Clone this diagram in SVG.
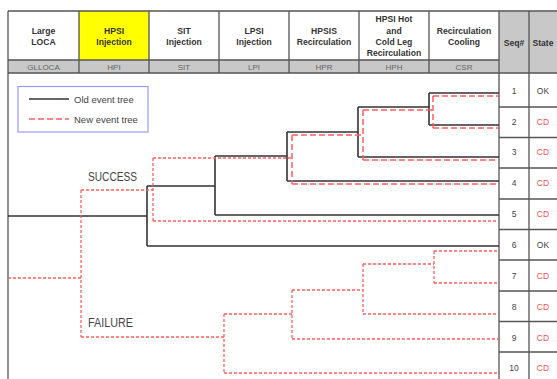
<svg xmlns="http://www.w3.org/2000/svg" width="557" height="379" viewBox="0 0 557 379">
<style>
.hd{font-family:"Liberation Sans",Arial,sans-serif;font-size:8.6px;font-weight:bold;fill:#333;text-anchor:middle}
.cd{font-family:"Liberation Sans",Arial,sans-serif;font-size:8px;fill:#666;text-anchor:middle}
.sq{font-family:"Liberation Sans",Arial,sans-serif;font-size:8.5px;fill:#444;text-anchor:middle}
.ok{font-family:"Liberation Sans",Arial,sans-serif;font-size:8.5px;fill:#444;text-anchor:middle}
.cdr{font-family:"Liberation Sans",Arial,sans-serif;font-size:8.5px;fill:#ff4d4d;text-anchor:middle}
.lg{font-family:"Liberation Sans",Arial,sans-serif;font-size:9.5px;fill:#444}
.br{font-family:"Liberation Sans",Arial,sans-serif;font-size:12.5px;fill:#444}
.grid{stroke:#555;stroke-width:1.3;fill:none}
.old{stroke:#333;stroke-width:1.6;fill:none}
.newL{stroke:#ff5c5c;stroke-width:1.5;fill:none;stroke-dasharray:6 3}
.newS{stroke:#ff5c5c;stroke-width:1.3;fill:none;stroke-dasharray:3 2}
</style>
<rect x="0" y="0" width="557" height="379" fill="#fff"/>

<g id="header">
  <rect x="79" y="11" width="70" height="49" fill="#ffff00"/>
  <rect x="8" y="60" width="491" height="13" fill="#c8c8c8"/>
  <rect x="499" y="11" width="60" height="62" fill="#c8c8c8"/>
  <g id="col-glloca"><text class="hd" x="43.5" y="34">Large</text><text class="hd" x="43.5" y="45">LOCA</text><text class="cd" x="43.5" y="70">GLLOCA</text></g>
  <g id="col-hpi"><text class="hd" x="114" y="34">HPSI</text><text class="hd" x="114" y="45">Injection</text><text class="cd" x="114" y="70">HPI</text></g>
  <g id="col-sit"><text class="hd" x="184" y="34">SIT</text><text class="hd" x="184" y="45">Injection</text><text class="cd" x="184" y="70">SIT</text></g>
  <g id="col-lpi"><text class="hd" x="254" y="34">LPSI</text><text class="hd" x="254" y="45">Injection</text><text class="cd" x="254" y="70">LPI</text></g>
  <g id="col-hpr"><text class="hd" x="324" y="34">HPSIS</text><text class="hd" x="324" y="45">Recirculation</text><text class="cd" x="324" y="70">HPR</text></g>
  <g id="col-hph"><text class="hd" x="394" y="22">HPSI Hot</text><text class="hd" x="394" y="33.5">and</text><text class="hd" x="394" y="45">Cold Leg</text><text class="hd" x="394" y="55.5">Recirculation</text><text class="cd" x="394" y="70">HPH</text></g>
  <g id="col-csr"><text class="hd" x="464" y="34">Recirculation</text><text class="hd" x="464" y="45">Cooling</text><text class="cd" x="464" y="70">CSR</text></g>
  <g id="col-seq"><text class="hd" x="514" y="46" font-weight="normal">Seq#</text></g>
  <g id="col-state"><text class="hd" x="543" y="46" font-weight="normal">State</text></g>
  <path class="grid" d="M8,11 H560 M8,60 H499 M8,73 H560 M8,11 V379 M79,11 V73 M149,11 V73 M219,11 V73 M289,11 V73 M359,11 V73 M429,11 V73 M499,11 V379 M529,11 V379"/>
  <path class="grid" d="M499,107 H560 M499,137.5 H560 M499,168 H560 M499,199 H560 M499,229.5 H560 M499,260 H560 M499,291 H560 M499,321.5 H560 M499,352 H560"/>
</g>

<g id="rows">
  <g id="seq1"><text class="sq" x="514" y="94">1</text><text class="ok" x="543" y="94">OK</text></g>
  <g id="seq2"><text class="sq" x="514" y="125">2</text><text class="cdr" x="543" y="125">CD</text></g>
  <g id="seq3"><text class="sq" x="514" y="155">3</text><text class="cdr" x="543" y="155">CD</text></g>
  <g id="seq4"><text class="sq" x="514" y="186">4</text><text class="cdr" x="543" y="186">CD</text></g>
  <g id="seq5"><text class="sq" x="514" y="217">5</text><text class="cdr" x="543" y="217">CD</text></g>
  <g id="seq6"><text class="sq" x="514" y="248">6</text><text class="ok" x="543" y="248">OK</text></g>
  <g id="seq7"><text class="sq" x="514" y="279">7</text><text class="cdr" x="543" y="279">CD</text></g>
  <g id="seq8"><text class="sq" x="514" y="310">8</text><text class="cdr" x="543" y="310">CD</text></g>
  <g id="seq9"><text class="sq" x="514" y="341">9</text><text class="cdr" x="543" y="341">CD</text></g>
  <g id="seq10"><text class="sq" x="514" y="371">10</text><text class="cdr" x="543" y="371">CD</text></g>
</g>

<g id="legend">
  <rect x="18" y="86.5" width="130" height="45.5" fill="#fff" stroke="#9999ff" stroke-width="1.2"/>
  <line class="old" x1="29" y1="99" x2="69" y2="99" stroke-width="1.3"/>
  <text class="lg" x="74" y="102.5">Old event tree</text>
  <line class="newL" x1="29" y1="119" x2="69" y2="119"/>
  <text class="lg" x="74" y="122.5">New event tree</text>
</g>

<g id="labels">
  <text class="br" x="88" y="181" textLength="49" lengthAdjust="spacingAndGlyphs">SUCCESS</text>
  <text class="br" x="88" y="327" textLength="45" lengthAdjust="spacingAndGlyphs">FAILURE</text>
</g>

<g id="connectors">
  <!-- old event tree -->
  <path class="old" d="M8,216 H147 M147,186 V246 M147,186 H215 M147,246 H499 M215,156 V215 M215,215 H499 M215,156 H287 M287,132 V181 M287,181 H499 M287,132 H358 M358,107 V157 M358,157 H499 M358,107 H429 M429,93 V125 M429,93 H499 M429,125 H499"/>
  <!-- new event tree, success branch -->
  <path class="newS" d="M8,278 H81 M81,190 V337 M81,190 H153 M153,158 V221 M153,221 H499 M153,158 H292"/>
  <path class="newL" d="M292,135 V184 M292,184 H499 M292,135 H363 M363,110 V160 M363,160 H499 M363,110 H433 M433,96 V128 M433,96 H499 M433,128 H499"/>
  <!-- new event tree, failure branch -->
  <path class="newS" d="M81,337 H224 M224,314 V373 M224,373 H499 M224,314 H292 M292,290 V339 M292,339 H499 M292,290 H363 M363,264 V314 M363,314 H499 M363,264 H434 M434,251 V283 M434,251 H499 M434,283 H499"/>
</g>
</svg>
